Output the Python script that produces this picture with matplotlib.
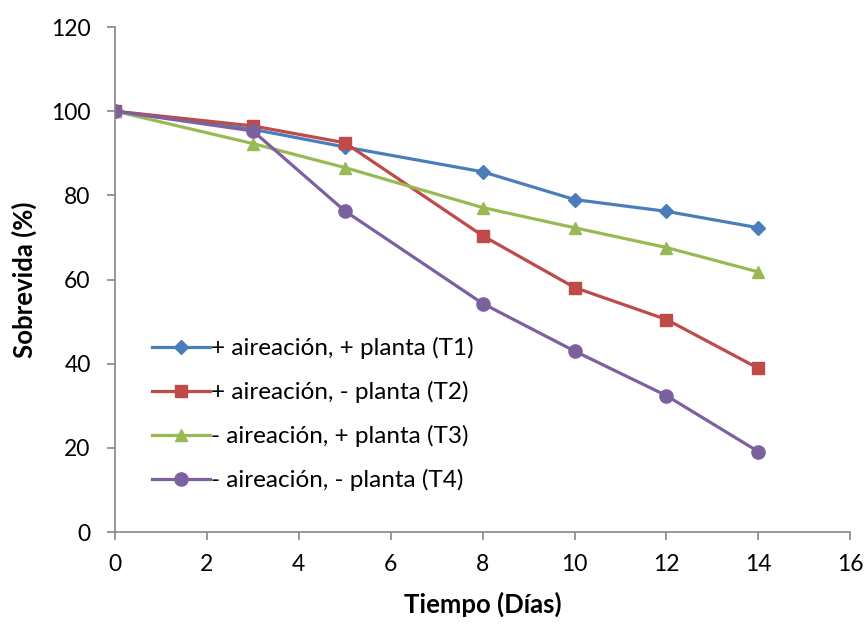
import matplotlib
matplotlib.use("Agg")
import matplotlib.pyplot as plt

plt.rcParams['font.family'] = ['Lato', 'DejaVu Sans']

dias = [0, 3, 5, 8, 10, 12, 14]
t1 = [100, 95.7, 91.5, 85.6, 79.0, 76.2, 72.3]
t2 = [100, 96.5, 92.5, 70.4, 58.1, 50.5, 38.9]
t3 = [100, 92.3, 86.6, 77.1, 72.3, 67.6, 61.8]
t4 = [100, 95.3, 76.3, 54.3, 43.0, 32.4, 19.1]
labels = ["+ aireación, + planta (T1)", "+ aireación, - planta (T2)",
          "- aireación, + planta (T3)", "- aireación, - planta (T4)"]
xticks = [0, 2, 4, 6, 8, 10, 12, 14, 16]
yticks = [0, 20, 40, 60, 80, 100, 120]

fig = plt.figure(figsize=(8.65, 6.24), dpi=100)
ax = fig.add_axes([0.133, 0.1474, 0.850, 0.8093])

series = [t1, t2, t3, t4]
colors = ['#4A7EBB', '#BE4B48', '#98B954', '#7D60A0']
markers = ['D', 's', '^', 'o']
msizes = [7.5, 8.5, 9, 9.5]
for s, c, m, ms, lab in zip(series, colors, markers, msizes, labels):
    ax.plot(dias, s, color=c, marker=m, markersize=ms, linewidth=2.3, label=lab)

ax.set_xlim(0, 16)
ax.set_ylim(0, 120)
ax.set_xticks(xticks)
ax.set_yticks(yticks)
for side in ['top', 'right']:
    ax.spines[side].set_visible(False)
for side in ['left', 'bottom']:
    ax.spines[side].set_color('#868686')
    ax.spines[side].set_linewidth(1.2)
ax.tick_params(colors='#868686', labelcolor='black', labelsize=16.5, length=5.5, width=1.2, direction='out')
ax.tick_params(axis='x', pad=10)
ax.tick_params(axis='y', pad=12)

ax.set_xlabel("Tiempo (Días)", fontsize=18.5, fontweight='bold', labelpad=12)
ax.set_ylabel("Sobrevida (%)", fontsize=18.5, fontweight='bold', labelpad=10)

leg = ax.legend(loc='upper left', bbox_to_anchor=(0.037, 0.405), frameon=False,
                fontsize=17.5, handlelength=2.4, handletextpad=0.02,
                labelspacing=0.9, borderaxespad=0)

fig.savefig("out.png", dpi=100)
